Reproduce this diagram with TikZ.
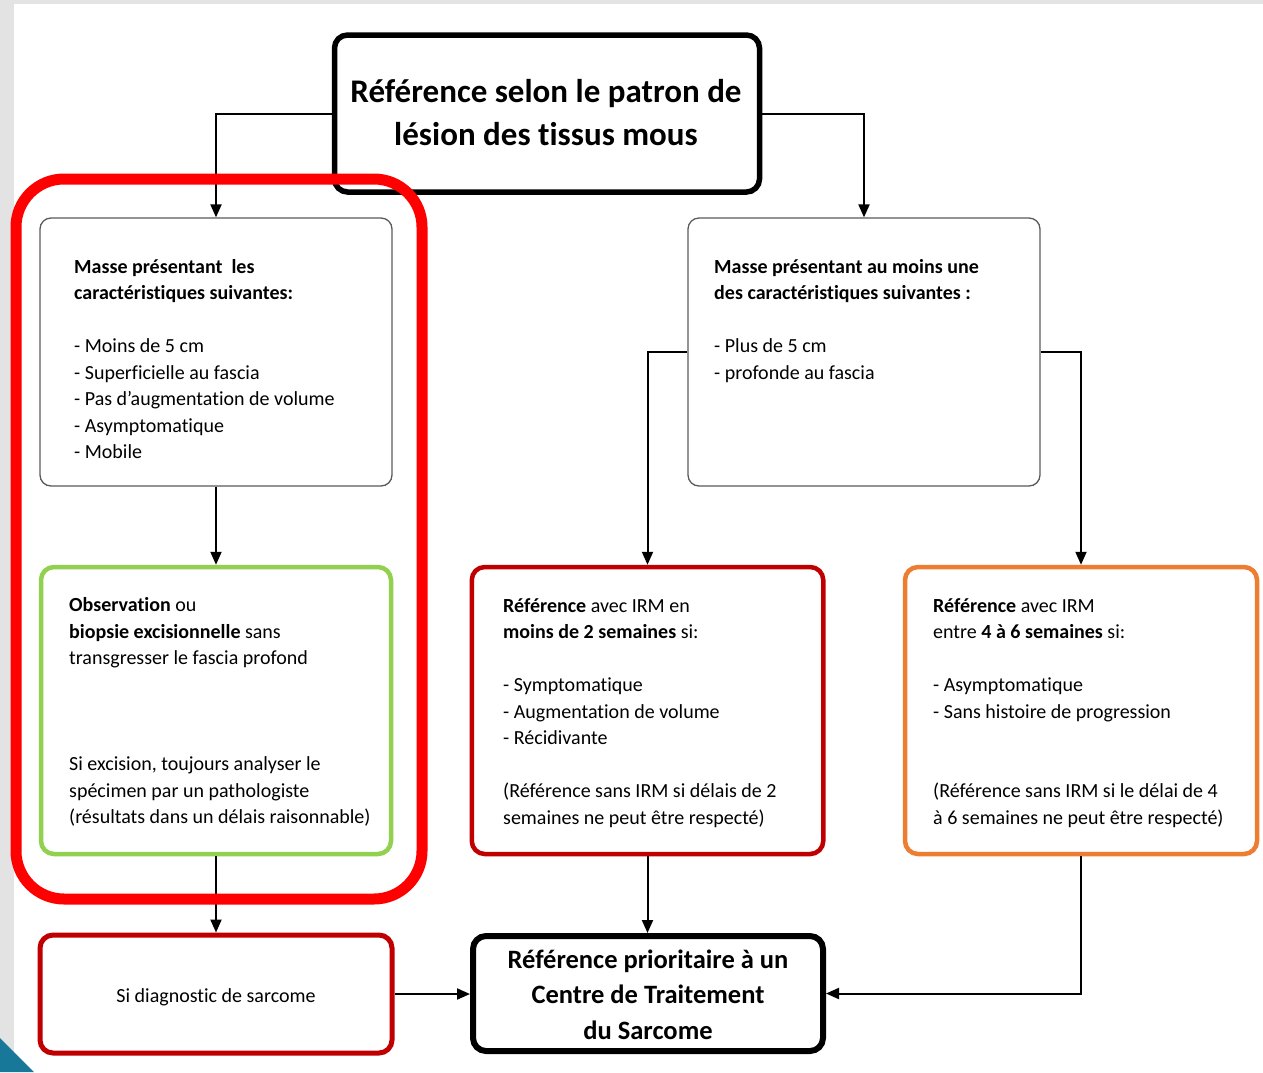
\documentclass[tikz,border=0pt]{standalone}
\usepackage{fontspec}
\setmainfont{Carlito}[Ligatures=NoCommon]
\usetikzlibrary{arrows.meta}
\definecolor{pagegrey}{HTML}{E3E3E3}
\definecolor{cornerteal}{HTML}{17789A}
\definecolor{gframe}{HTML}{92D050}
\definecolor{rframe}{HTML}{C00000}
\definecolor{oframe}{HTML}{ED7D31}
\definecolor{hilite}{HTML}{FF0000}
\definecolor{greyframe}{HTML}{5A5A5A}
\newcommand\leftlines[1]{\vtop{\halign{##\hfil\cr#1\crcr}}}
\newcommand\midlines[1]{\vtop{\halign{\hfil##\hfil\cr#1\crcr}}}
\begin{document}
\begin{tikzpicture}[x=1pt,y=-1pt,
  boxbase/.style={rectangle, inner sep=0pt, rounded corners=13pt, fill=white},
  plainbox/.style={boxbase, draw=greyframe, line width=1.3pt, rounded corners=11pt},
  thickbox/.style={boxbase, draw=black, line width=5.5pt},
  greenbox/.style={boxbase, draw=gframe, line width=4.5pt},
  redbox/.style={boxbase, draw=rframe, line width=4.5pt},
  orangebox/.style={boxbase, draw=oframe, line width=4.5pt},
  txt/.style={inner sep=0pt, anchor=base west, font=\fontsize{20}{26.5}\selectfont},
  arr/.style={-{Triangle[length=13pt,width=11pt]}, line width=2pt, black},
]
\useasboundingbox (0,0) rectangle (1263,1072);
\fill[pagegrey] (0,0) rectangle (1263,1072);
\fill[white] (14,4) rectangle (1263,1072);
\fill[cornerteal] (0,1038) -- (34,1072) -- (0,1072) -- cycle;

% boxes
\node[thickbox, minimum width=425pt, minimum height=157pt] (title) at (547,113.5) {};
\node[plainbox, minimum width=352pt, minimum height=268pt] (b1) at (216,352) {};
\node[plainbox, minimum width=352pt, minimum height=268pt] (b2) at (864,352) {};
\node[greenbox, minimum width=350pt, minimum height=287pt] (green) at (216,710.5) {};
\node[redbox, minimum width=351.5pt, minimum height=287pt] (red) at (647.5,710.5) {};
\node[orangebox, minimum width=352pt, minimum height=287pt] (orange) at (1081,710.5) {};
\node[redbox, line width=5pt, minimum width=352pt, minimum height=118pt] (diag) at (216,994) {};
\node[thickbox, line width=6pt, minimum width=350pt, minimum height=115pt] (final) at (648,993.5) {};

% texts
\node[inner sep=0pt, anchor=base, font=\bfseries\fontsize{33}{43.5}\selectfont] (titletxt) at (546,102)
  {\midlines{Référence selon le patron de\cr lésion des tissus mous}};
\node[txt] (b1txt) at (74,273) {\leftlines{%
  \textbf{Masse présentant\ \ les}\cr
  \textbf{caractéristiques suivantes:}\cr
  \cr
  - Moins de 5 cm\cr
  - Superficielle au fascia\cr
  - Pas d’augmentation de volume\cr
  - Asymptomatique\cr
  - Mobile}};
\node[txt] (b2txt) at (714,273) {\leftlines{%
  \textbf{Masse présentant au moins une}\cr
  \textbf{des caractéristiques suivantes :}\cr
  \cr
  - Plus de 5 cm\cr
  - profonde au fascia}};
\node[txt] (greentxt) at (69,611.5) {\leftlines{%
  \textbf{Observation} ou\cr
  \textbf{biopsie excisionnelle} sans\cr
  transgresser le fascia profond\cr
  \cr\cr\cr
  Si excision, toujours analyser le\cr
  spécimen par un pathologiste\cr
  (résultats dans un délais raisonnable)}};
\node[txt] (redtxt) at (503,612) {\leftlines{%
  \textbf{Référence} avec IRM en\cr
  \textbf{moins de 2 semaines} si:\cr
  \cr
  - Symptomatique\cr
  - Augmentation de volume\cr
  - Récidivante\cr
  \cr
  (Référence sans IRM si délais de 2\cr
  semaines ne peut être respecté)}};
\node[txt] (orangetxt) at (933,612) {\leftlines{%
  \textbf{Référence} avec IRM\cr
  entre \textbf{4 à 6 semaines} si:\cr
  \cr
  - Asymptomatique\cr
  - Sans histoire de progression\cr
  \cr\cr
  (Référence sans IRM si le délai de 4\cr
  à 6 semaines ne peut être respecté)}};
\node[inner sep=0pt, anchor=base, font=\fontsize{20}{26.5}\selectfont] (diagtxt) at (216,1002) {Si diagnostic de sarcome};
\node[inner sep=0pt, anchor=base, font=\bfseries\fontsize{26.5}{35.5}\selectfont] (finaltxt) at (648,968)
  {\midlines{Référence prioritaire à un\cr Centre de Traitement\cr du Sarcome}};

% connectors
\draw[arr] (title.west) -| (b1.north);
\draw[arr] (title.east) -| (b2.north);
\draw[arr] (b1.south) -- (b1.south |- green.north);
\draw[arr] (b2.west) -| (red.north);
\draw[arr] (b2.east) -| (orange.north);
\draw[arr] (green.south) -- (green.south |- diag.north);
\draw[arr] (red.south) -- (red.south |- final.north);
\draw[arr] (diag.east) -- (diag.east -| final.west);
\draw[arr] (orange.south) |- (final.east);

% highlight frame
\draw[hilite, line width=11pt, rounded corners=48pt] (16,179) rectangle (422,899);
\end{tikzpicture}
\end{document}
